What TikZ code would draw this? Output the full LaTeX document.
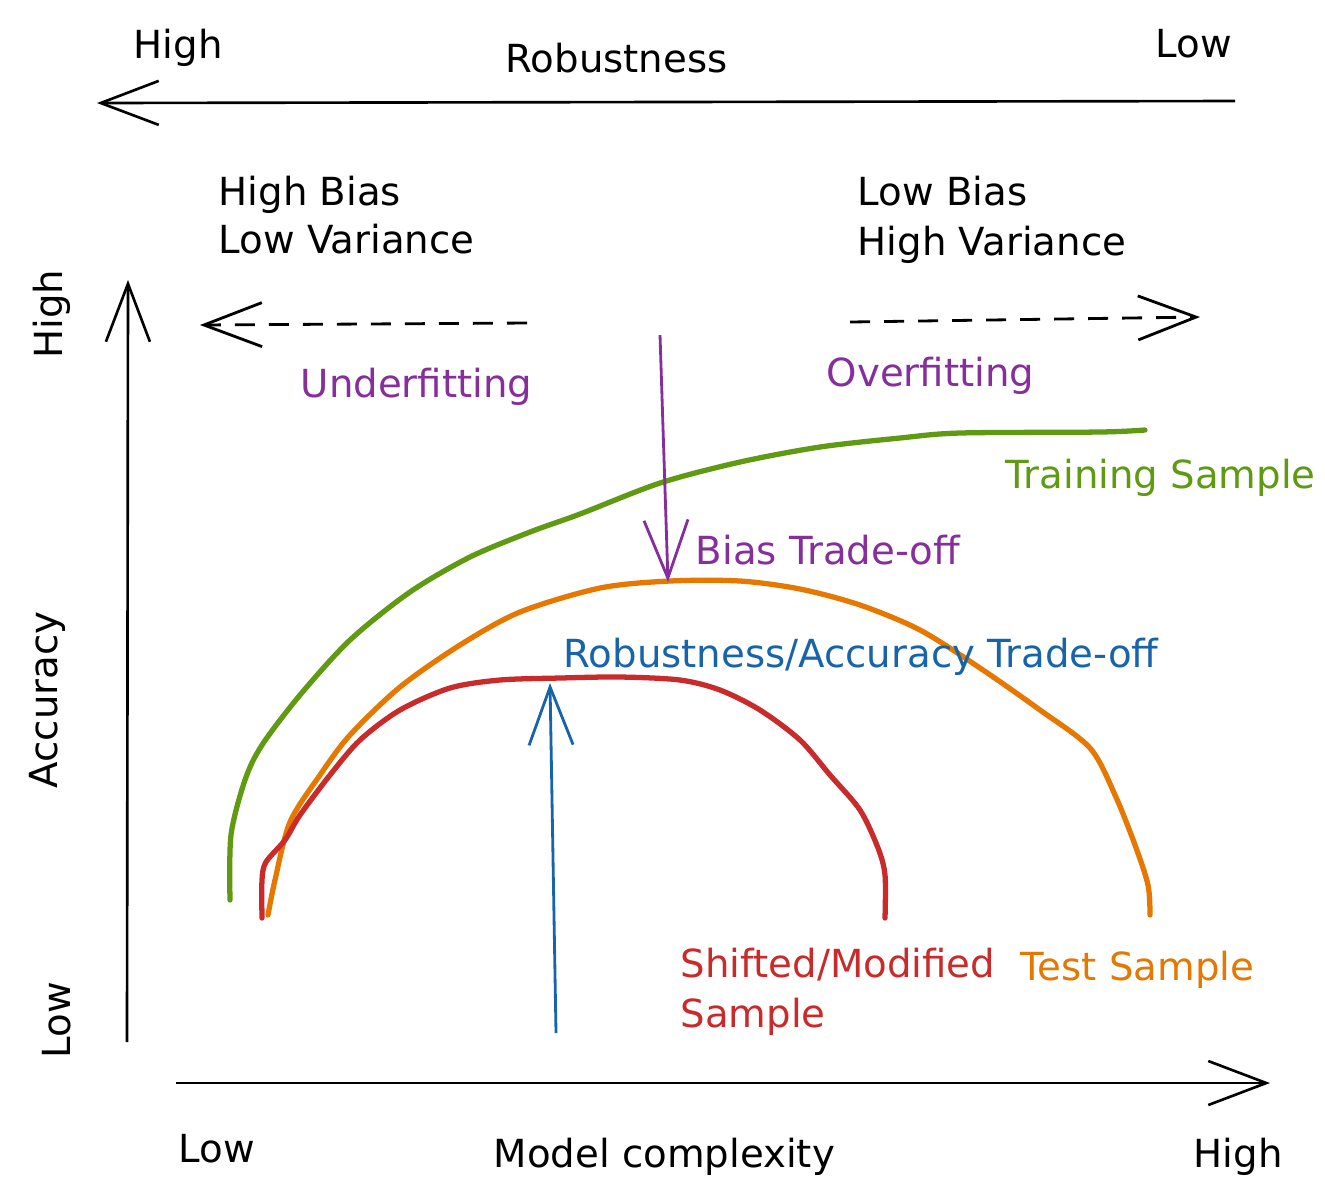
\documentclass[tikz,border=0pt]{standalone}
\usepackage{fontspec}
\setmainfont{DejaVu Sans}
\usetikzlibrary{arrows.meta}
\definecolor{cgreen}{HTML}{5F9A12}
\definecolor{corange}{HTML}{E67700}
\definecolor{cred}{HTML}{C92A2A}
\definecolor{cpurple}{HTML}{862E9C}
\definecolor{cblue}{HTML}{1864AB}
\begin{document}
\begin{tikzpicture}[x=0.01cm,y=-0.01cm,
  lbl/.style={font=\fontsize{11pt}{13pt}\selectfont, inner sep=0pt, anchor=base west},
  vlbl/.style={font=\fontsize{11pt}{13pt}\selectfont, inner sep=0pt, anchor=center, rotate=90},
  tip/.style={-{Straight Barb[length=5.8mm,width=4.4mm,line width=#1]}},
  ax/.style={line width=0.75pt, tip=0.75pt},
  thin/.style={line width=0.8pt, tip=0.8pt},
  curve/.style={line width=1.5pt, line cap=round, line join=round},
  dsh/.style={line width=0.8pt, dash pattern=on 0.2cm off 0.14cm, tip=0.8pt}
  ]
\useasboundingbox (0,0) rectangle (1325,1199);

% Robustness axis
\coordinate (rs) at (1235,101);
\coordinate (re) at (97,103);
\draw[ax] (rs) -- (re);
\node[lbl] (rhigh) at (133,58) {High};
\node[lbl] (rob) at (505,72) {Robustness};
\node[lbl] (rlow) at (1155,57) {Low};

% Bias/variance labels
\node[lbl] (hb) at (218,205) {High Bias};
\node[lbl] (lv) at (218,253) {Low Variance};
\node[lbl] (lb) at (857,205) {Low Bias};
\node[lbl] (hv) at (857,255) {High Variance};

% Dashed arrows
\coordinate (u0) at (527,323);
\coordinate (u1) at (200,325);
\draw[dsh] (u0) -- (u1);
\coordinate (o0) at (850,322);
\coordinate (o1) at (1200,317);
\draw[dsh] (o0) -- (o1);
\node[lbl, text=cpurple] (under) at (300,397) {Underfitting};
\node[lbl, text=cpurple] (over) at (826,386) {Overfitting};

% Main axes
\coordinate (ya0) at (127,1042);
\coordinate (ya1) at (128,280);
\draw[ax] (ya0) -- (ya1);
\coordinate (xa0) at (176,1083);
\coordinate (xa1) at (1270,1083);
\draw[ax] (xa0) -- (xa1);

\node[vlbl] (yhigh) at (52,314) {High};
\node[vlbl] (yacc) at (47,700) {Accuracy};
\node[vlbl] (ylow) at (57,1020) {Low};

\node[lbl] (xlow) at (178,1162) {Low};
\node[lbl] (xmc) at (493,1167) {Model complexity};
\node[lbl] (xhigh) at (1193,1167) {High};

% Curves
\draw[curve, cgreen] plot[smooth, tension=0.5] coordinates {
  (230,900) (231,835) (245,780) (262,745) (300,695) (350,640) (410,592)
  (470,557) (530,532) (580,514) (660,483) (740,462) (820,447) (900,438)
  (960,433) (1100,432) (1145,430)};
\draw[curve, corange] plot[smooth, tension=0.5] coordinates {
  (268,915) (275,880) (290,822) (320,775) (350,735) (400,687) (460,645)
  (520,612) (600,588) (670,581) (740,581) (800,589) (860,605) (920,630)
  (980,668) (1040,710) (1090,748) (1115,795) (1135,845) (1148,885) (1150,915)};
\draw[curve, cred] plot[smooth, tension=0.5] coordinates {
  (262,918) (262,880) (266,862) (285,840) (300,815) (330,775) (360,740)
  (400,710) (450,688) (500,680) (560,678) (620,677) (680,680) (720,690)
  (760,710) (800,740) (830,775) (860,810) (878,848) (885,875) (885,918)};

\node[lbl, text=cgreen] (train) at (1005,488) {Training Sample};
\node[lbl, text=corange] (test) at (1020,980) {Test Sample};
\node[lbl, text=cred] (shift) at (680,977) {Shifted/Modified};
\node[lbl, text=cred] (shift2) at (680,1027) {Sample};

% Trade-off arrows
\coordinate (b0) at (660,335);
\coordinate (b1) at (668,582);
\draw[thin, cpurple] (b0) -- (b1);
\node[lbl, text=cpurple] (bias) at (695,564) {Bias Trade-off};

\coordinate (a0) at (556,1033);
\coordinate (a1) at (550,683);
\draw[thin, cblue] (a0) -- (a1);
\node[lbl, text=cblue] (rat) at (563,667) {Robustness/Accuracy Trade-off};
\end{tikzpicture}
\end{document}
